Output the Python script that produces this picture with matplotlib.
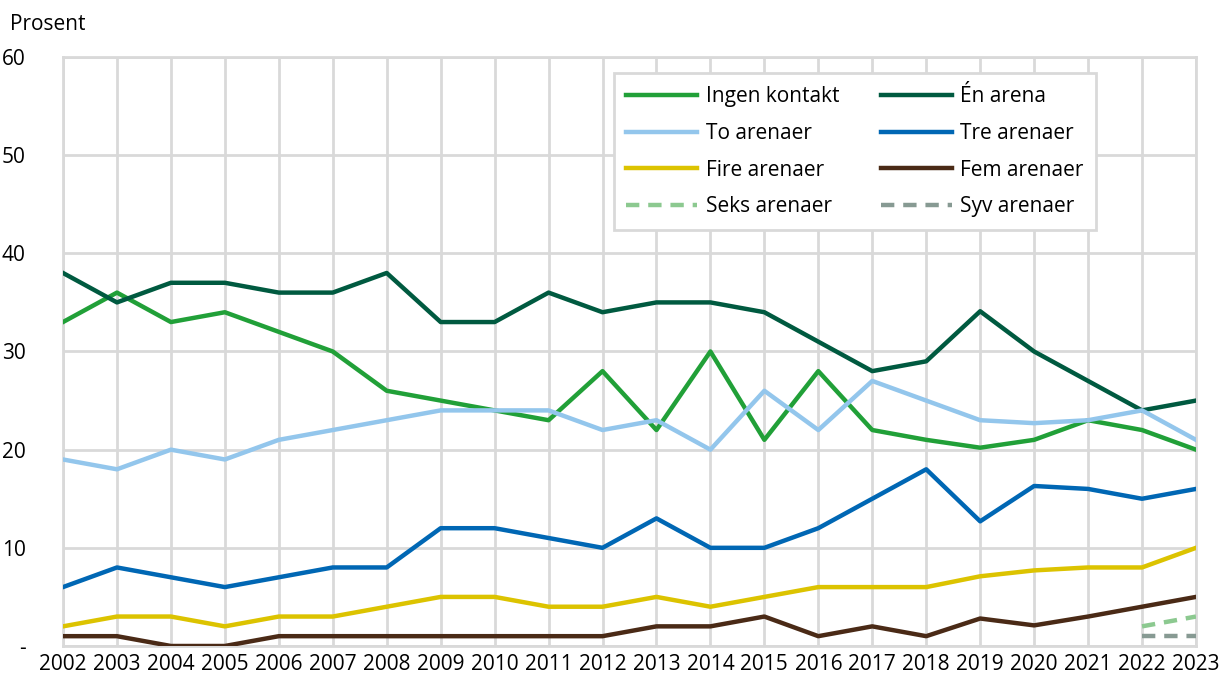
import matplotlib.pyplot as plt
import numpy as np

plt.rcParams['font.family'] = ['Open Sans', 'DejaVu Sans']

years = np.arange(2002, 2024)

ingen = [33, 36, 33, 34, 32, 30, 26, 25, 24, 23, 28, 22, 30, 21, 28, 22, 21, 20.2, 21, 23, 22, 20]
en = [38, 35, 37, 37, 36, 36, 38, 33, 33, 36, 34, 35, 35, 34, 31, 28, 29, 34.1, 30, 27, 24, 25]
to = [19, 18, 20, 19, 21, 22, 23, 24, 24, 24, 22, 23, 20, 26, 22, 27, 25, 23, 22.7, 23, 24, 21]
tre = [6, 8, 7, 6, 7, 8, 8, 12, 12, 11, 10, 13, 10, 10, 12, 15, 18, 12.7, 16.3, 16, 15, 16]
fire = [2, 3, 3, 2, 3, 3, 4, 5, 5, 4, 4, 5, 4, 5, 6, 6, 6, 7.1, 7.7, 8, 8, 10]
fem = [1, 1, 0, 0, 1, 1, 1, 1, 1, 1, 1, 2, 2, 3, 1, 2, 1, 2.8, 2.1, 3, 4, 5]
seks_years = [2022, 2023]
seks = [2, 3]
syv_years = [2022, 2023]
syv = [1, 1]

fig = plt.figure(figsize=(12.21, 6.77), dpi=100)
ax = fig.add_axes([0.0516, 0.0458, 0.9279, 0.870])

lw = 3.2
l1, = ax.plot(years, ingen, color="#21a038", lw=lw, label="Ingen kontakt", zorder=3)
l2, = ax.plot(years, en, color="#005a40", lw=lw, label="Én arena", zorder=3)
l3, = ax.plot(years, to, color="#93c6ec", lw=lw, label="To arenaer", zorder=3)
l4, = ax.plot(years, tre, color="#0067b4", lw=lw, label="Tre arenaer", zorder=3)
l5, = ax.plot(years, fire, color="#dcc300", lw=lw, label="Fire arenaer", zorder=3)
l6, = ax.plot(years, fem, color="#4a2a16", lw=lw, label="Fem arenaer", zorder=3)
l7, = ax.plot(seks_years, seks, color="#8cc990", lw=lw, ls=(0, (3, 2)), label="Seks arenaer", zorder=3)
l8, = ax.plot(syv_years, syv, color="#879a93", lw=lw, ls=(0, (3, 2)), label="Syv arenaer", zorder=3)

ax.set_xlim(2002, 2023)
ax.set_ylim(0, 60)
ax.set_xticks(years)
ax.set_xticklabels([str(y) for y in years])
ax.set_yticks(range(0, 61, 10))
ax.set_yticklabels(["-", "10", "20", "30", "40", "50", "60"])
ax.tick_params(length=0, labelsize=15)
ax.tick_params(axis="y", pad=27)
ax.tick_params(axis="x", pad=6)
for lab in ax.get_yticklabels():
    lab.set_horizontalalignment("right")

ax.grid(True, color="#d9d9d9", lw=2, zorder=0)
for s in ax.spines.values():
    s.set_color("#d9d9d9")
    s.set_linewidth(2)

fig.text(10 / 1221, 1 - 25 / 677, "Prosent", fontsize=15, va="center", ha="left")

# legend fills column-wise, so order handles to read row by row
handles = [l1, l3, l5, l7, l2, l4, l6, l8]
ax.legend(handles=handles, labels=[h.get_label() for h in handles], ncol=2,
          loc="upper left", bbox_to_anchor=(0.4863, 0.972), borderaxespad=0,
          fontsize=15, frameon=True, fancybox=False, edgecolor="#d9d9d9",
          framealpha=1, handlelength=3.4, labelspacing=0.76, columnspacing=2.0,
          handletextpad=0.4, borderpad=0.6)
ax.get_legend().get_frame().set_linewidth(2)

fig.savefig("out.png", dpi=100)
